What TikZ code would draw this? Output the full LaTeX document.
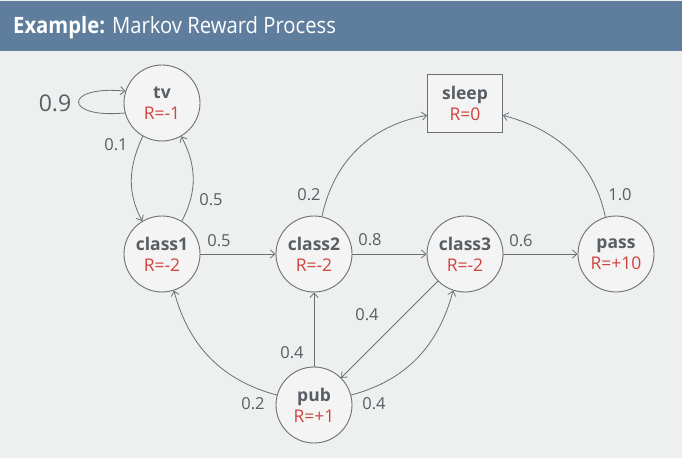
\documentclass[tikz,border=0pt]{standalone}
\usepackage{fontspec}
\setmainfont{Open Sans}
\newfontfamily\titlefont{Open Sans}[FakeStretch=0.9]
\usetikzlibrary{arrows.meta}
\definecolor{barblue}{HTML}{5F7E9E}
\definecolor{bggray}{HTML}{EEEFEF}
\definecolor{nodefill}{HTML}{F4F4F4}
\definecolor{linegray}{HTML}{6A7075}
\definecolor{txtgray}{HTML}{575E64}
\definecolor{rred}{HTML}{D0433B}
\tikzset{
  state/.style={circle, draw=linegray, fill=nodefill, line width=0.9pt, minimum size=76pt, inner sep=0pt, align=center, text=txtgray, font=\fontsize{17.5}{21}\selectfont},
  termbox/.style={rectangle, draw=linegray, fill=nodefill, line width=0.9pt, minimum width=75pt, minimum height=58pt, inner sep=0pt, align=center, text=txtgray, font=\fontsize{17.5}{21}\selectfont},
  edge/.style={draw=linegray, line width=0.8pt, -{Straight Barb[length=4.5pt,width=8pt]}},
  prob/.style={text=txtgray, font=\fontsize{16.5}{18}\selectfont, inner sep=0pt}
}
\begin{document}
\begin{tikzpicture}[x=1pt,y=1pt]
\useasboundingbox (0,0) rectangle (682,458);
\fill[bggray] (0,0) rectangle (682,458);
\fill[barblue] (0,407) rectangle (682,457);
\node[anchor=base west, text=white, font=\titlefont\fontsize{22.5}{26}\selectfont, inner sep=0pt] (title) at (13,424) {\textbf{Example:} Markov Reward Process};

\node[state] (tv) at (162,355) {\textbf{tv}\\{\color{rred}R=-1}};
\node[state] (class1) at (162,204) {\textbf{class1}\\{\color{rred}R=-2}};
\node[state] (class2) at (314,204) {\textbf{class2}\\{\color{rred}R=-2}};
\node[state] (class3) at (465,204) {\textbf{class3}\\{\color{rred}R=-2}};
\node[state] (pass) at (616,204) {\textbf{pass}\\{\color{rred}R=+10}};
\node[termbox] (sleep) at (465,355) {\textbf{sleep}\\{\color{rred}R=0}};
\node[state] (pub) at (314,53) {\textbf{pub}\\{\color{rred}R=+1}};

\draw[edge] (tv.195) .. controls +(-62,-6) and +(-62,6) .. (tv.162);
\draw[edge] (tv.240) to[out=245,in=118] (class1.121);
\draw[edge] (class1.59) to[out=62,in=298] (tv.300);
\draw[edge] (class1) -- (class2);
\draw[edge] (class2) -- (class3);
\draw[edge] (class3) -- (pass);
\draw[edge] (class2.78) to[out=78,in=190] (sleep.198);
\draw[edge] (pass.106) to[out=102,in=345] (sleep.342);
\draw[edge] (class3) -- (pub);
\draw[edge] (pub.15) to[out=15,in=255] (class3.252);
\draw[edge] (pub) -- (class2);
\draw[edge] (pub.165) to[out=165,in=285] (class1.288);

\node[prob, font=\fontsize{23}{26}\selectfont] (p09) at (55,355) {0.9};
\node[prob] (p01) at (116,313) {0.1};
\node[prob] (p05a) at (211,258) {0.5};
\node[prob] (p05b) at (219,217) {0.5};
\node[prob] (p02a) at (309,263) {0.2};
\node[prob] (p08) at (370,218) {0.8};
\node[prob] (p06) at (521,217) {0.6};
\node[prob] (p10) at (620,263) {1.0};
\node[prob] (p04a) at (367,143) {0.4};
\node[prob] (p04b) at (292,105) {0.4};
\node[prob] (p02b) at (253,54) {0.2};
\node[prob] (p04c) at (374,54) {0.4};
\end{tikzpicture}
\end{document}
